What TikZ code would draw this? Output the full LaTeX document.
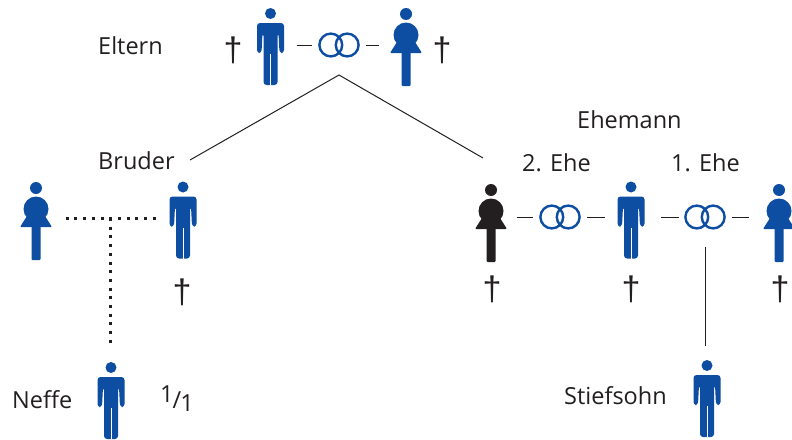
\documentclass[tikz,border=0pt]{standalone}
\usepackage{fontspec}
\setmainfont{Open Sans}
\newfontfamily\crossfont{Liberation Sans}
\usetikzlibrary{positioning}
\definecolor{figblue}{HTML}{0D4EA2}
\definecolor{figblack}{HTML}{231F20}
\tikzset{
pics/man/.style={code={
\node[figbox,minimum width=28,minimum height=77] (-n) at (0,0){};
\fill[figblue] (0,-33) circle (5.5);
\fill[figblue,rounded corners=3] (-13.5,6.5) -- (-13.5,-23.5) -- (13.5,-23.5) -- (13.5,6.5) -- (9,6.5) -- (8,-13.5) -- (7,-13.5) -- (7,38.5) -- (-7,38.5) -- (-7,-13.5) -- (-8,-13.5) -- (-9,6.5) -- cycle;
\draw[white,line width=.8] (0,7.5) -- (0,38.5);
}},
pics/woman/.style={code={
\node[figbox,minimum width=33,minimum height=78] (-n) at (0,0){};
\fill[#1] (0,-33) circle (6);
\fill[#1] (0,-12) circle (12.5);
\fill[#1,rounded corners=1] (-16,6) -- (-9,-5) -- (9,-5) -- (16,6) -- cycle;
\fill[#1,rounded corners=1] (-4.5,5) -- (4.5,5) -- (4.5,39) -- (-4.5,39) -- cycle;
}}
}
\tikzstyle{figbox}=[rectangle, inner sep=0]
\tikzstyle{rings}=[rectangle, minimum width=44, minimum height=28, inner sep=0, path picture={\draw[figblue,line width=2.4] (-8.2,0) circle (11.4) (8.2,0) circle (11.4);}]
\tikzstyle{label}=[inner sep=0, text=figblack, font=\fontsize{23.5}{23.5}\selectfont, anchor=base west]
\tikzstyle{cross}=[inner sep=0, text=figblack, font=\crossfont\fontsize{34}{34}\selectfont]
\tikzstyle{ehe}=[line width=1, color=figblack]
\tikzstyle{tree}=[line width=1, color=figblack]
\tikzstyle{dots}=[line width=3, color=figblack, dash pattern=on 3 off 5.7]
\begin{document}
\begin{tikzpicture}[x=1pt,y=-1pt]
\useasboundingbox (0,0) rectangle (792,439);
%Row One
\node[label] (eltern) at (98,54){Eltern};
\node[cross] (k1) at (233,50){†};
\pic (vater) at (270.5,46.5){man};
\node[rings] (r1) at (339,45){};
\pic (mutter) at (406,47){woman=figblue};
\node[cross] (k2) at (442,50){†};
%Row Two
\node[label] (ehemann) at (577,128){Ehemann};
\node[label] (bruderl) at (98,169){Bruder};
\node[label] (ehe2) at (522,171){2. Ehe};
\node[label] (ehe1) at (671,171){1. Ehe};
\pic (schwaegerin) at (36,221){woman=figblue};
\pic (bruder) at (183,220){man};
\pic (frau) at (491,223){woman=figblack};
\node[rings] (r2) at (560,217){};
\pic (gatte) at (631,220){man};
\node[rings] (r3) at (705,217){};
\pic (exfrau) at (779,223){woman=figblue};
\node[cross] (k3) at (182,292){†};
\node[cross] (k4) at (492,289){†};
\node[cross] (k5) at (631,289){†};
\node[cross] (k6) at (780,289){†};
%Row Three
\node[label] (neffel) at (12,408){Neffe};
\pic (neffe) at (111,400.5){man};
\node[label] (anteil) at (160,408){\raisebox{6pt}{1}\kern-1pt/\kern-1pt\raisebox{-3pt}{1}};
\node[label] (stiefl) at (564,404){Stiefsohn};
\pic (stiefsohn) at (707,398.5){man};
%Lines
\coordinate (top) at (339,75);
\coordinate (links) at (190,160);
\coordinate (rechts) at (483,158);
\coordinate (abzw) at (110.5,218);
\draw[tree] (links) -- (top) -- (rechts);
\draw[ehe,shorten <=12,shorten >=5] (vater-n.east |- r1) -- (r1.west);
\draw[ehe,shorten <=5,shorten >=10] (r1.east) -- (mutter-n.west |- r1);
\draw[ehe,shorten <=9,shorten >=5] (frau-n.east |- r2) -- (r2.west);
\draw[ehe,shorten <=5,shorten >=12] (r2.east) -- (gatte-n.west |- r2);
\draw[ehe,shorten <=16,shorten >=4] (gatte-n.east |- r3) -- (r3.west);
\draw[ehe,shorten <=5,shorten >=13] (r3.east) -- (exfrau-n.west |- r3);
\draw[tree,shorten <=16,shorten >=14] (r3.south) -- (stiefsohn-n.north -| r3);
\draw[dots,shorten <=13,shorten >=13] (schwaegerin-n.east |- abzw) -- (bruder-n.west |- abzw);
\draw[dots] (abzw) -- ++(0,127);
\end{tikzpicture}
\end{document}
